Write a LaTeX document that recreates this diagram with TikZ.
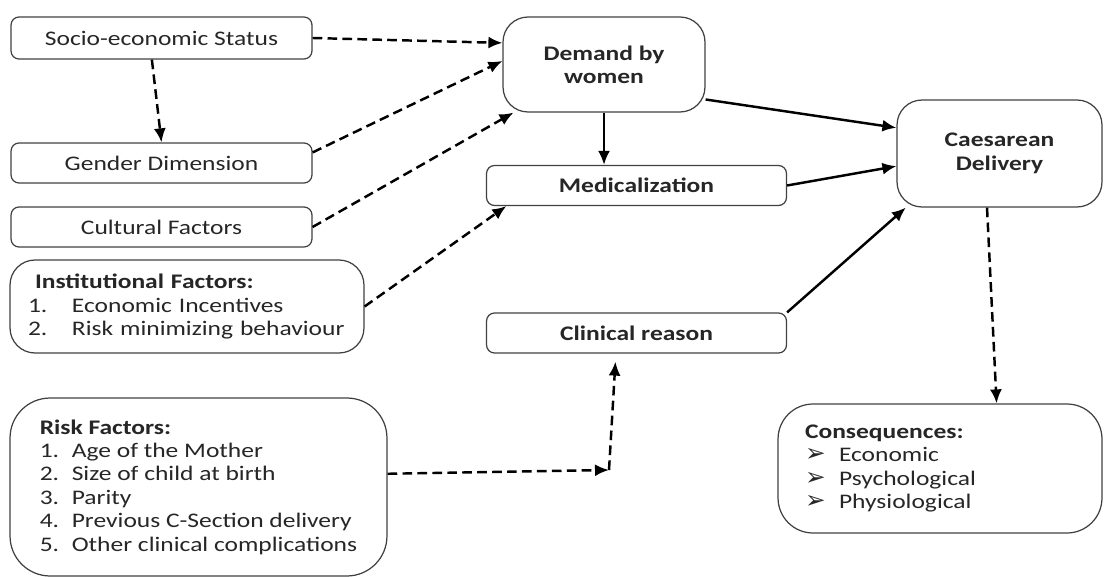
\documentclass[tikz,border=0pt]{standalone}
\usepackage{fontspec}
\setmainfont{Carlito}[FakeStretch=1.23]
\newfontfamily\arrowfont{DejaVu Sans}
\usetikzlibrary{arrows.meta}

\begin{document}
\begin{tikzpicture}[x=0.02cm,y=-0.02cm,
  every node/.style={font=\fontsize{11.8}{13.3}\selectfont,text=black!85},
  bold/.style={font=\fontsize{11.8}{13.3}\selectfont\bfseries},
  box/.style={draw=black!75,line width=0.7pt,rounded corners=0.16cm,minimum width=6.02cm,minimum height=0.8cm,inner sep=0pt},
  bigbox/.style={box,align=left},
  arr/.style={-{Latex[length=2.8mm,width=2.4mm]},line width=1.4pt},
  darr/.style={arr,dash pattern=on 5.5pt off 3pt}]
\useasboundingbox (0,0) rectangle (1104,577);

% causes on the left
\node (socio) at (161.5,38) [box,minimum height=0.84cm] {Socio-economic Status};
\node (gender) at (161.5,163) [box] {Gender Dimension};
\node (cultural) at (161.5,227) [box] {Cultural Factors};
\node (inst) at (187,306.5) [bigbox,rounded corners=0.5cm,minimum width=7.08cm,minimum height=1.86cm,text width=6.36cm,inner xsep=0.36cm]
  {\hspace*{0.14cm}\textbf{Institutional Factors:}\\
   \makebox[0.88cm][l]{1.}Economic Incentives\\
   \makebox[0.88cm][l]{2.}Risk minimizing behaviour};
\node (risk) at (198.5,487) [bigbox,rounded corners=0.8cm,minimum width=7.54cm,minimum height=3.56cm]
  {\textbf{Risk Factors:}\\
   \makebox[0.64cm][l]{1.}Age of the Mother\\
   \makebox[0.64cm][l]{2.}Size of child at birth\\
   \makebox[0.64cm][l]{3.}Parity\\
   \makebox[0.64cm][l]{4.}Previous C-Section delivery\\
   \makebox[0.64cm][l]{5.}Other clinical complications};

% middle column
\node (demand) at (604,64.5) [box,bold,align=center,rounded corners=0.5cm,minimum width=4.04cm,minimum height=1.9cm] {Demand by\\women};
\node (medic) at (636.5,185.5) [box,bold,minimum width=6cm] {Medicalization};
\node (clinical) at (636.5,333) [box,bold,minimum width=6cm] {Clinical reason};

% outcome
\node (caes) at (999.5,153.5) [box,bold,align=center,rounded corners=0.5cm,minimum width=4.1cm,minimum height=2.14cm] {Caesarean\\Delivery};
\node (cons) at (940,468.5) [bigbox,rounded corners=0.7cm,minimum width=6.48cm,minimum height=2.58cm,text width=5.4cm,inner xsep=0.54cm]
  {\textbf{Consequences:}\\
   \makebox[0.68cm][l]{\arrowfont\fontsize{14}{13.3}\selectfont ➢}Economic\\
   \makebox[0.68cm][l]{\arrowfont\fontsize{14}{13.3}\selectfont ➢}Psychological\\
   \makebox[0.68cm][l]{\arrowfont\fontsize{14}{13.3}\selectfont ➢}Physiological};

\coordinate (bend) at (609,470);

\draw [darr] (socio.east) -- (demand.168);
\draw [darr] (socio.246) -- (gender.north);
\draw [darr] (gender.4) -- (demand.178);
\draw [darr] (cultural.east) -- (demand.208);
\draw [darr] (inst.east) -- (medic.189);
\draw [darr] (risk.4) -- (bend);
\draw [darr,shorten >=0.16cm] (bend) -- (clinical.225);
\draw [arr] (demand.south) -- (demand.south |- medic.north);
\draw [arr] (demand.-19) -- (caes.166);
\draw [arr] (medic.east) -- (caes.187);
\draw [arr] (clinical.north east) -- (caes.210);
\draw [darr] (caes.257) -- (cons.49);
\end{tikzpicture}
\end{document}
